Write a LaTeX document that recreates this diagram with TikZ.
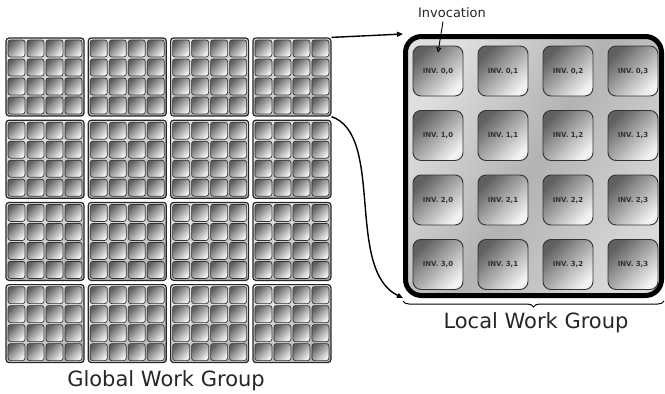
\documentclass[tikz,border=0pt]{standalone}
\usepackage{fontspec}
\setmainfont{DejaVu Sans}
\usetikzlibrary{arrows.meta,decorations.pathreplacing}

\tikzset{
  wgblock/.style={draw=black!85, line width=1.2pt, rounded corners=3pt, minimum size=78pt, inner sep=0pt,
    top color=gray!20, bottom color=gray!60, shading angle=30},
  wgcell/.style={draw=black!80, line width=0.7pt, rounded corners=2.5pt, minimum size=17pt, inner sep=0pt,
    top color=gray!75!black, bottom color=gray!10, shading angle=45},
  lgroup/.style={draw=black, line width=5pt, rounded corners=16pt, minimum width=256pt, minimum height=259pt, inner sep=0pt,
    left color=gray!25, right color=gray!30, middle color=gray!60, shading angle=60},
  invcell/.style={draw=black!80, line width=0.9pt, rounded corners=8pt, minimum size=50pt, inner sep=0pt,
    top color=gray!75!black, bottom color=gray!10, shading angle=45,
    font=\fontsize{7}{8}\selectfont\bfseries, text=black!80},
  conn/.style={line width=1.4pt, -{Triangle[open,length=6pt,width=5pt]}},
  caption/.style={font=\fontsize{21}{25}\selectfont, text=black!85},
}

\begin{document}
\begin{tikzpicture}[x=1pt,y=-1pt]
  \useasboundingbox (0,0) rectangle (665,394);
  % global work group: 4x4 blocks of 4x4 invocations
  \foreach \r in {0,...,3}{
    \foreach \c in {0,...,3}{
      \node[wgblock] (b-\r-\c) at ({45+82.3*\c},{77+82.2*\r}) {};
      \foreach \i in {0,...,3}{
        \foreach \j in {0,...,3}{\node[wgcell] (c-\r-\c-\i-\j) at ({16.5+82.3*\c+19*\j},{48.5+82.2*\r+19*\i}) {};}
      }
    }
  }
  % local work group
  \node[lgroup] (lwg) at (533.5,166) {};
  \foreach \i in {0,...,3}{
    \foreach \j in {0,...,3}{\node[invcell] (inv-\i-\j) at ({438+65*\j},{71+64.5*\i}) {INV. \i,\j};}
  }
  \draw[conn] (b-0-3.north east) -- (lwg.north west);
  \draw[conn] (b-0-3.south east) .. controls (385,135) and (345,270) .. (lwg.south west);
  % labels
  \node[font=\fontsize{13}{15}\selectfont, text=black!85] (invlbl) at (452,13) {Invocation};
  \coordinate (invtip) at ([yshift=-7pt]inv-0-0.north);
  \draw[line width=0.9pt, -{Triangle[open,length=5pt,width=5pt]}] ([xshift=-9pt]invlbl.south) -- (invtip);
  \draw[line width=1pt, decorate,decoration={brace,amplitude=6pt,mirror}] ([yshift=-3pt]lwg.south west) -- ([yshift=-3pt]lwg.south east);
  \node[caption] (lwglbl) at (536,323) {Local Work Group};
  \node[caption] (gwglbl) at (166,381) {Global Work Group};
\end{tikzpicture}
\end{document}
